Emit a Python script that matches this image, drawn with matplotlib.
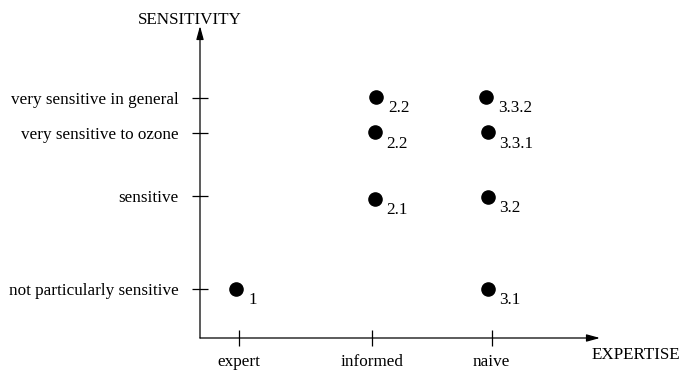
import matplotlib
matplotlib.use("Agg")
import matplotlib.pyplot as plt

# ---- data ----
expertise_labels = ["expert", "informed", "naive"]
expertise_pos = [1.0, 2.0, 2.9]
sensitivity_labels = ["not particularly sensitive", "sensitive",
                      "very sensitive to ozone", "very sensitive in general"]
sensitivity_pos = [1.0, 2.0, 2.67, 3.05]

point_labels = ["1", "2.1", "2.2", "2.2", "3.1", "3.2", "3.3.1", "3.3.2"]
point_x = [0.98, 2.02, 2.02, 2.03, 2.87, 2.87, 2.87, 2.86]
point_y = [1.0, 1.97, 2.68, 3.06, 1.0, 1.99, 2.68, 3.06]

plt.rcParams['font.family'] = ['Liberation Serif', 'DejaVu Serif']
FS = 12.3

fig = plt.figure(figsize=(6.84, 3.71), dpi=100)
ax = fig.add_axes([200/684, 33/371, 400/684, 312/371])
ax.set_xlim(0.707, 3.714)
ax.set_ylim(0.47, 3.825)

for s in ax.spines.values():
    s.set_visible(False)

# axes with arrows
ax.annotate('', xy=(1, 0), xytext=(0, 0), xycoords='axes fraction',
            arrowprops=dict(arrowstyle='-|>,head_length=0.8,head_width=0.22',
                            color='black', lw=0.9, shrinkA=0, shrinkB=0))
ax.annotate('', xy=(0, 1), xytext=(0, 0), xycoords='axes fraction',
            arrowprops=dict(arrowstyle='-|>,head_length=0.8,head_width=0.22',
                            color='black', lw=0.9, shrinkA=0, shrinkB=0))

ax.set_xticks(expertise_pos)
ax.set_xticklabels(expertise_labels, fontsize=FS)
ax.set_yticks(sensitivity_pos)
ax.set_yticklabels(sensitivity_labels, fontsize=FS)
ax.tick_params(axis='both', direction='inout', length=12, width=0.9, color='black')
ax.tick_params(axis='y', pad=9.5)
ax.tick_params(axis='x', pad=5.5)

ax.scatter(point_x, point_y, s=90, color='black', zorder=3, clip_on=False)
for lbl, x, y in zip(point_labels, point_x, point_y):
    ax.annotate(lbl, xy=(x, y), xytext=(8.5, -8), textcoords='offset points',
                ha='left', va='center', fontsize=FS)

ax.text(-0.025, 0.995, "SENSITIVITY", transform=ax.transAxes, ha='center',
        va='bottom', fontsize=FS)
ax.text(0.98, -0.055, "EXPERTISE", transform=ax.transAxes, ha='left',
        va='center', fontsize=FS)

fig.savefig("out.png", dpi=100)
